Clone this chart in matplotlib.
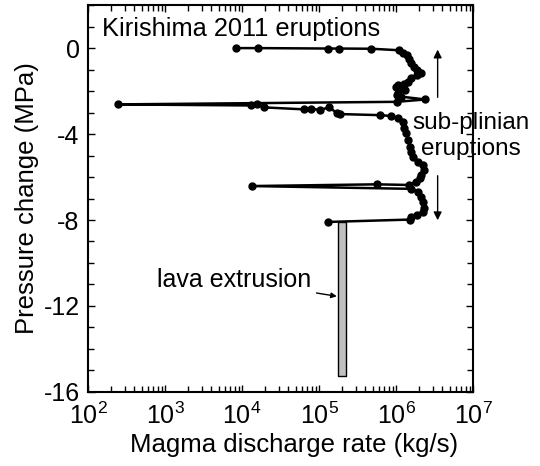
import numpy as np
import matplotlib
matplotlib.use('Agg')
from matplotlib import pyplot as plt
from matplotlib.ticker import MultipleLocator, LogLocator, NullFormatter

plt.rcParams['font.family'] = ['Liberation Sans', 'DejaVu Sans']
plt.rcParams['mathtext.fontset'] = 'custom'
plt.rcParams['mathtext.rm'] = 'Liberation Sans'
plt.rcParams['mathtext.it'] = 'Liberation Sans:italic'
plt.rcParams['axes.unicode_minus'] = False

# magma discharge rate (log10 kg/s) and pressure change (MPa)
log_rate = [3.92, 4.21, 5.12, 5.26, 5.68, 6.04, 6.09, 6.14, 6.17, 6.20, 6.23, 6.27, 6.33,
            6.27, 6.20, 6.15, 6.10, 6.02, 6.00, 6.06, 6.12, 6.03, 6.01, 6.07, 6.38, 6.01,
            2.39, 4.12, 4.20, 4.29, 4.80, 4.90, 5.01, 5.13, 5.23, 5.27, 5.79, 5.94,
            6.03, 6.09, 6.10, 6.13, 6.16, 6.18, 6.20, 6.22, 6.29, 6.35, 6.36, 6.33, 6.31,
            6.26, 6.17, 5.75, 4.13, 6.20, 6.29, 6.33, 6.35, 6.36, 6.35, 6.27, 6.20, 6.18,
            5.12]
pressure = [0.0, 0.0, -0.02, -0.02, -0.03, -0.10, -0.22, -0.33, -0.53, -0.71, -0.87, -1.02, -1.15,
            -1.26, -1.41, -1.57, -1.67, -1.70, -1.83, -1.88, -1.95, -2.08, -2.19, -2.26, -2.39, -2.50,
            -2.62, -2.67, -2.62, -2.76, -2.85, -2.82, -2.88, -2.76, -3.01, -3.07, -3.12, -3.16,
            -3.27, -3.43, -3.73, -3.97, -4.28, -4.59, -4.82, -5.06, -5.29, -5.44, -5.67, -5.91, -6.06,
            -6.22, -6.37, -6.34, -6.42, -6.55, -6.68, -6.92, -7.15, -7.46, -7.61, -7.77, -7.85, -7.98,
            -8.09]

# lava extrusion range
lava_rate = [1.78e5, 2.24e5]
lava_pressure = [-8.1, -15.25]

fig = plt.figure(figsize=(5.4, 4.66), dpi=100)
ax = fig.add_axes([0.163, 0.159, 0.713, 0.83])

rate = 10 ** np.array(log_rate)
ax.plot(rate, pressure, color='black', lw=1.8, ls='-', marker='o', markersize=5)

ax.fill_between(lava_rate, lava_pressure[0], lava_pressure[1], facecolor='#c0c0c0',
                edgecolor='black', lw=1.0, zorder=1)

ax.set_xscale('log')
ax.set_xlim(1e2, 1e7)
ax.set_ylim(-16, 2)
ax.yaxis.set_major_locator(MultipleLocator(4))
ax.yaxis.set_minor_locator(MultipleLocator(1))
ax.xaxis.set_major_locator(LogLocator(base=10, numticks=10))
ax.xaxis.set_minor_locator(LogLocator(base=10, subs=np.arange(2, 10), numticks=20))
ax.xaxis.set_minor_formatter(NullFormatter())

ax.tick_params(which='both', direction='in', top=True, right=True, labelsize=18, width=1)
ax.tick_params(which='major', length=5)
ax.tick_params(axis='x', which='major', pad=8)
ax.tick_params(axis='y', which='major', pad=6)
ax.tick_params(which='minor', length=4)
for s in ax.spines.values():
    s.set_linewidth(1.5)

ax.set_xlabel('Magma discharge rate (kg/s)', fontsize=18.5, labelpad=1)
ax.xaxis.set_label_coords(0.535, -0.105)
ax.set_ylabel('Pressure change (MPa)', fontsize=18.5, labelpad=3)

ax.text(0.036, 0.92, 'Kirishima 2011 eruptions', transform=ax.transAxes, fontsize=18.3,
        va='baseline', ha='left')

# sub-plinian arrows
ax.annotate('', xy=(3.47e6, 0.06), xytext=(3.47e6, -2.42),
            arrowprops=dict(arrowstyle='-|>', color='black', lw=1, mutation_scale=12))
ax.annotate('', xy=(3.47e6, -8.14), xytext=(3.47e6, -5.81),
            arrowprops=dict(arrowstyle='-|>', color='black', lw=1, mutation_scale=12))
ax.text(9.3e6, -4.09, 'sub-plinian\neruptions', fontsize=17.5, ha='center', va='center',
        linespacing=1.2, clip_on=False)

ax.annotate('lava extrusion', xy=(1.7e5, -11.55), xytext=(7.8e2, -11.1), fontsize=18,
            va='baseline', ha='left',
            arrowprops=dict(arrowstyle='-|>', color='black', lw=1, mutation_scale=8,
                            shrinkA=2, shrinkB=0))

plt.savefig('out.png', dpi=100)
